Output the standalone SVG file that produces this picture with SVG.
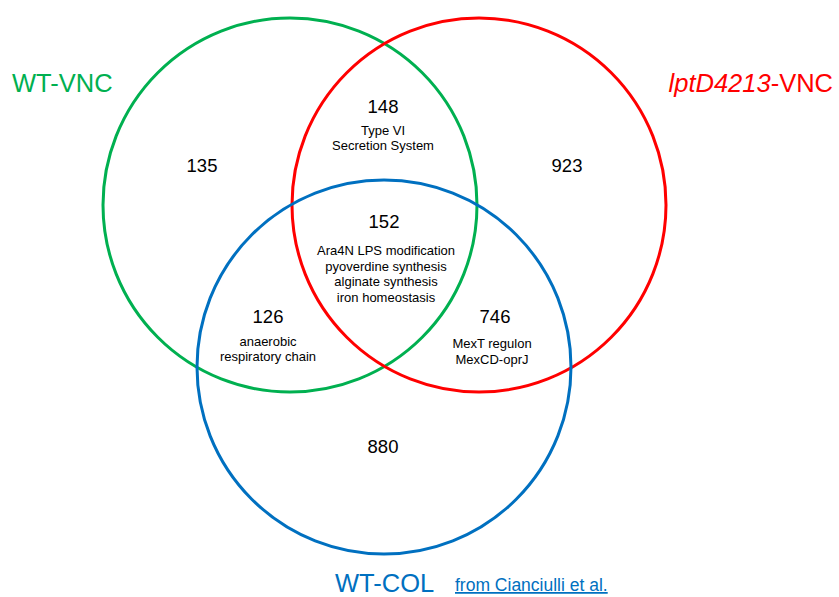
<svg xmlns="http://www.w3.org/2000/svg" width="839" height="597" viewBox="0 0 839 597">
<style>
.c{fill:none;stroke-width:3}
.n{font-family:"Liberation Sans",Arial,sans-serif;font-size:18.5px;fill:#000;text-anchor:middle}
.s{font-family:"Liberation Sans",Arial,sans-serif;font-size:13px;fill:#000;text-anchor:middle}
.t{font-family:"Liberation Sans",Arial,sans-serif;font-size:25.5px}
</style>
<rect width="839" height="597" fill="#fff"/>
<g id="circles">
<circle id="green" class="c" cx="290" cy="205" r="187" stroke="#00B050"/>
<circle id="red" class="c" cx="479" cy="205" r="187" stroke="#FF0000"/>
<circle id="blue" class="c" cx="384" cy="367" r="187" stroke="#0070C0"/>
</g>
<g id="titles">
<text class="t" x="12" y="92" fill="#00B050">WT-VNC</text>
<text class="t" x="833" y="92" fill="#FF0000" text-anchor="end"><tspan font-style="italic">lptD4213</tspan>-VNC</text>
<text class="t" x="335" y="592" fill="#0070C0">WT-COL</text>
<text x="455" y="591" fill="#0070C0" font-family="'Liberation Sans',Arial,sans-serif" font-size="17.5" text-decoration="underline">from Cianciulli et al.</text>
</g>
<g id="region-green-only"><text class="n" x="202" y="172">135</text></g>
<g id="region-red-only"><text class="n" x="567" y="172">923</text></g>
<g id="region-green-red">
<text class="n" x="383" y="113">148</text>
<text class="s" x="383" y="135">Type VI</text>
<text class="s" x="383" y="150">Secretion System</text>
</g>
<g id="region-all">
<text class="n" x="384" y="228">152</text>
<text class="s" x="386" y="255">Ara4N LPS modification</text>
<text class="s" x="386" y="271">pyoverdine synthesis</text>
<text class="s" x="386" y="286">alginate synthesis</text>
<text class="s" x="386" y="302">iron homeostasis</text>
</g>
<g id="region-green-blue">
<text class="n" x="268" y="323">126</text>
<text class="s" x="268" y="346">anaerobic</text>
<text class="s" x="268" y="361">respiratory chain</text>
</g>
<g id="region-red-blue">
<text class="n" x="495" y="323">746</text>
<text class="s" x="492" y="348">MexT regulon</text>
<text class="s" x="492" y="364">MexCD-oprJ</text>
</g>
<g id="region-blue-only"><text class="n" x="383" y="453">880</text></g>
</svg>
